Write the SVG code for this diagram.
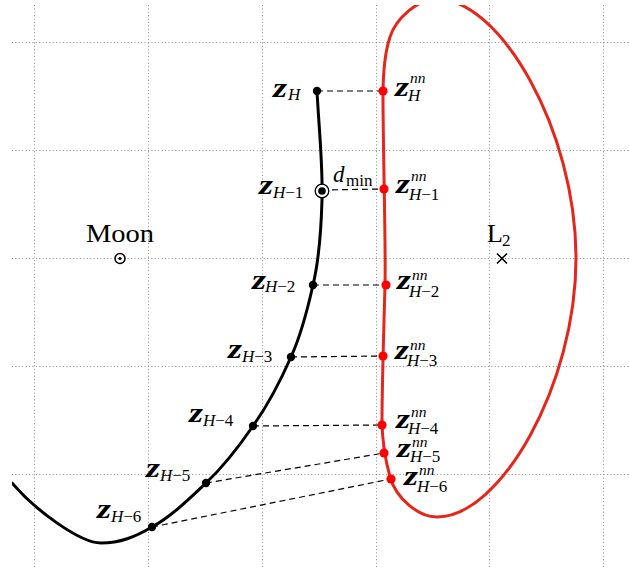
<svg xmlns="http://www.w3.org/2000/svg" width="629" height="571" viewBox="0 0 629 571">
<style>
.grid line{stroke:#8c8c8c;stroke-width:1;stroke-dasharray:1 2.4}
.dash{stroke:#000;stroke-width:1.2;stroke-dasharray:6 4;fill:none}
.traj{fill:none;stroke:#000;stroke-width:3;stroke-linecap:round}
.ref{fill:none;stroke:#e4261b;stroke-width:3}
.bd{fill:#000}
.rd{fill:#ff0000}
text{font-family:"Liberation Serif","Times New Roman",serif;fill:#000}
.z{font-size:27px;font-weight:bold;font-style:italic}
.s{font-size:17px}
.p{font-size:15.5px;font-style:italic}
.i{font-style:italic}
.big{font-size:26px}
</style>
<defs>
<clipPath id="clip"><rect x="12" y="5" width="617" height="563"/></clipPath>
</defs>
<g id="grid" class="grid">
<line x1="34.5" y1="5" x2="34.5" y2="568"/>
<line x1="148.5" y1="5" x2="148.5" y2="568"/>
<line x1="262.5" y1="5" x2="262.5" y2="568"/>
<line x1="376.5" y1="5" x2="376.5" y2="568"/>
<line x1="489.5" y1="5" x2="489.5" y2="568"/>
<line x1="603.5" y1="5" x2="603.5" y2="568"/>
<line x1="12" y1="42.5" x2="629" y2="42.5"/>
<line x1="12" y1="150.5" x2="629" y2="150.5"/>
<line x1="12" y1="258.5" x2="629" y2="258.5"/>
<line x1="12" y1="366.5" x2="629" y2="366.5"/>
<line x1="12" y1="474.5" x2="629" y2="474.5"/>
</g>
<g id="curves" clip-path="url(#clip)">
<path id="reference-orbit" class="ref" d="M437,-1 C500,-1 576,130 576,258 C576,386 500,517 437,517 C418,517 396,498 390,477 C384,455 382,440 382,420 C382,390 384,320 385,285 C386,250 383,150 383,96 C383,70 385,52 390,37 C396,18 418,-1 437,-1 Z"/>
<path id="trajectory" class="traj" d="M317,91 C319,130 323,165 322,200 C321,235 319,260 313,285 C307,312 301,335 291,357 C280,382 268,405 253,426 C240,445 224,466 206,483 C190,498 172,516 152,527 C135,537 120,543 101,543 C80,543 35,510 12,483"/>
</g>
<g id="connectors">
<line class="dash" x1="317" y1="91" x2="383" y2="91"/>
<line class="dash" x1="322" y1="190" x2="384" y2="189"/>
<line class="dash" x1="313" y1="285" x2="386" y2="285"/>
<line class="dash" x1="291" y1="357" x2="383" y2="356"/>
<line class="dash" x1="253" y1="426" x2="382" y2="425"/>
<line class="dash" x1="206" y1="483" x2="384" y2="453"/>
<line class="dash" x1="152" y1="527" x2="391" y2="479"/>
</g>
<g id="node-zH"><circle class="bd" cx="317" cy="91" r="4.2"/><text class="z" x="273" y="97" textLength="14" lengthAdjust="spacingAndGlyphs">z</text><text class="s i" x="288" y="100">H</text></g>
<g id="node-zH1"><circle cx="322" cy="191" r="6.8" fill="#fff" stroke="#000" stroke-width="1.3"/><circle class="bd" cx="322" cy="191" r="3.8"/><text class="z" x="259" y="194" textLength="14" lengthAdjust="spacingAndGlyphs">z</text><text class="s" x="273" y="198"><tspan class="i">H</tspan>−1</text></g>
<g id="node-zH2"><circle class="bd" cx="313" cy="285" r="4.2"/><text class="z" x="252" y="289" textLength="14" lengthAdjust="spacingAndGlyphs">z</text><text class="s" x="265" y="292"><tspan class="i">H</tspan>−2</text></g>
<g id="node-zH3"><circle class="bd" cx="291" cy="357" r="4.2"/><text class="z" x="228" y="358" textLength="14" lengthAdjust="spacingAndGlyphs">z</text><text class="s" x="242" y="362"><tspan class="i">H</tspan>−3</text></g>
<g id="node-zH4"><circle class="bd" cx="253" cy="426" r="4.2"/><text class="z" x="189" y="422" textLength="14" lengthAdjust="spacingAndGlyphs">z</text><text class="s" x="203" y="426"><tspan class="i">H</tspan>−4</text></g>
<g id="node-zH5"><circle class="bd" cx="206" cy="483" r="4.2"/><text class="z" x="146" y="477" textLength="14" lengthAdjust="spacingAndGlyphs">z</text><text class="s" x="160" y="481"><tspan class="i">H</tspan>−5</text></g>
<g id="node-zH6"><circle class="bd" cx="152" cy="527" r="4.2"/><text class="z" x="97" y="518" textLength="14" lengthAdjust="spacingAndGlyphs">z</text><text class="s" x="111" y="522"><tspan class="i">H</tspan>−6</text></g>
<g id="node-nnH"><circle class="rd" cx="383" cy="91" r="4.6"/><text class="z" x="395" y="96" textLength="14" lengthAdjust="spacingAndGlyphs">z</text><text class="p" x="410" y="83">nn</text><text class="s i" x="408" y="101">H</text></g>
<g id="node-nnH1"><circle class="rd" cx="384" cy="189" r="4.6"/><text class="z" x="396" y="193" textLength="14" lengthAdjust="spacingAndGlyphs">z</text><text class="p" x="411" y="181">nn</text><text class="s" x="409" y="200"><tspan class="i">H</tspan>−1</text></g>
<g id="node-nnH2"><circle class="rd" cx="386" cy="285" r="4.6"/><text class="z" x="397" y="289" textLength="14" lengthAdjust="spacingAndGlyphs">z</text><text class="p" x="412" y="280">nn</text><text class="s" x="409" y="297"><tspan class="i">H</tspan>−2</text></g>
<g id="node-nnH3"><circle class="rd" cx="383" cy="356" r="4.6"/><text class="z" x="395" y="359" textLength="14" lengthAdjust="spacingAndGlyphs">z</text><text class="p" x="410" y="350">nn</text><text class="s" x="407" y="366"><tspan class="i">H</tspan>−3</text></g>
<g id="node-nnH4"><circle class="rd" cx="382" cy="425" r="4.6"/><text class="z" x="396" y="428" textLength="14" lengthAdjust="spacingAndGlyphs">z</text><text class="p" x="411" y="417">nn</text><text class="s" x="408" y="434"><tspan class="i">H</tspan>−4</text></g>
<g id="node-nnH5"><circle class="rd" cx="384" cy="453" r="4.6"/><text class="z" x="397" y="457" textLength="14" lengthAdjust="spacingAndGlyphs">z</text><text class="p" x="412" y="447">nn</text><text class="s" x="410" y="462"><tspan class="i">H</tspan>−5</text></g>
<g id="node-nnH6"><circle class="rd" cx="391" cy="479" r="4.6"/><text class="z" x="404" y="485" textLength="14" lengthAdjust="spacingAndGlyphs">z</text><text class="p" x="419" y="475">nn</text><text class="s" x="417" y="492"><tspan class="i">H</tspan>−6</text></g>
<g id="dmin"><text class="i" x="333" y="182" font-size="23">d</text><text class="s" x="346" y="186" font-size="16">min</text></g>
<g id="moon"><circle cx="120" cy="258.5" r="5" fill="none" stroke="#000" stroke-width="1.5"/><circle class="bd" cx="120" cy="258.5" r="1.6"/><text class="big" x="86" y="242" textLength="68" lengthAdjust="spacingAndGlyphs">Moon</text></g>
<g id="L2"><path d="M497,253.5 L507,263.5 M507,253.5 L497,263.5" stroke="#000" stroke-width="1.6"/><text class="big" x="487" y="242">L</text><text class="s" x="502" y="246">2</text></g>
</svg>
